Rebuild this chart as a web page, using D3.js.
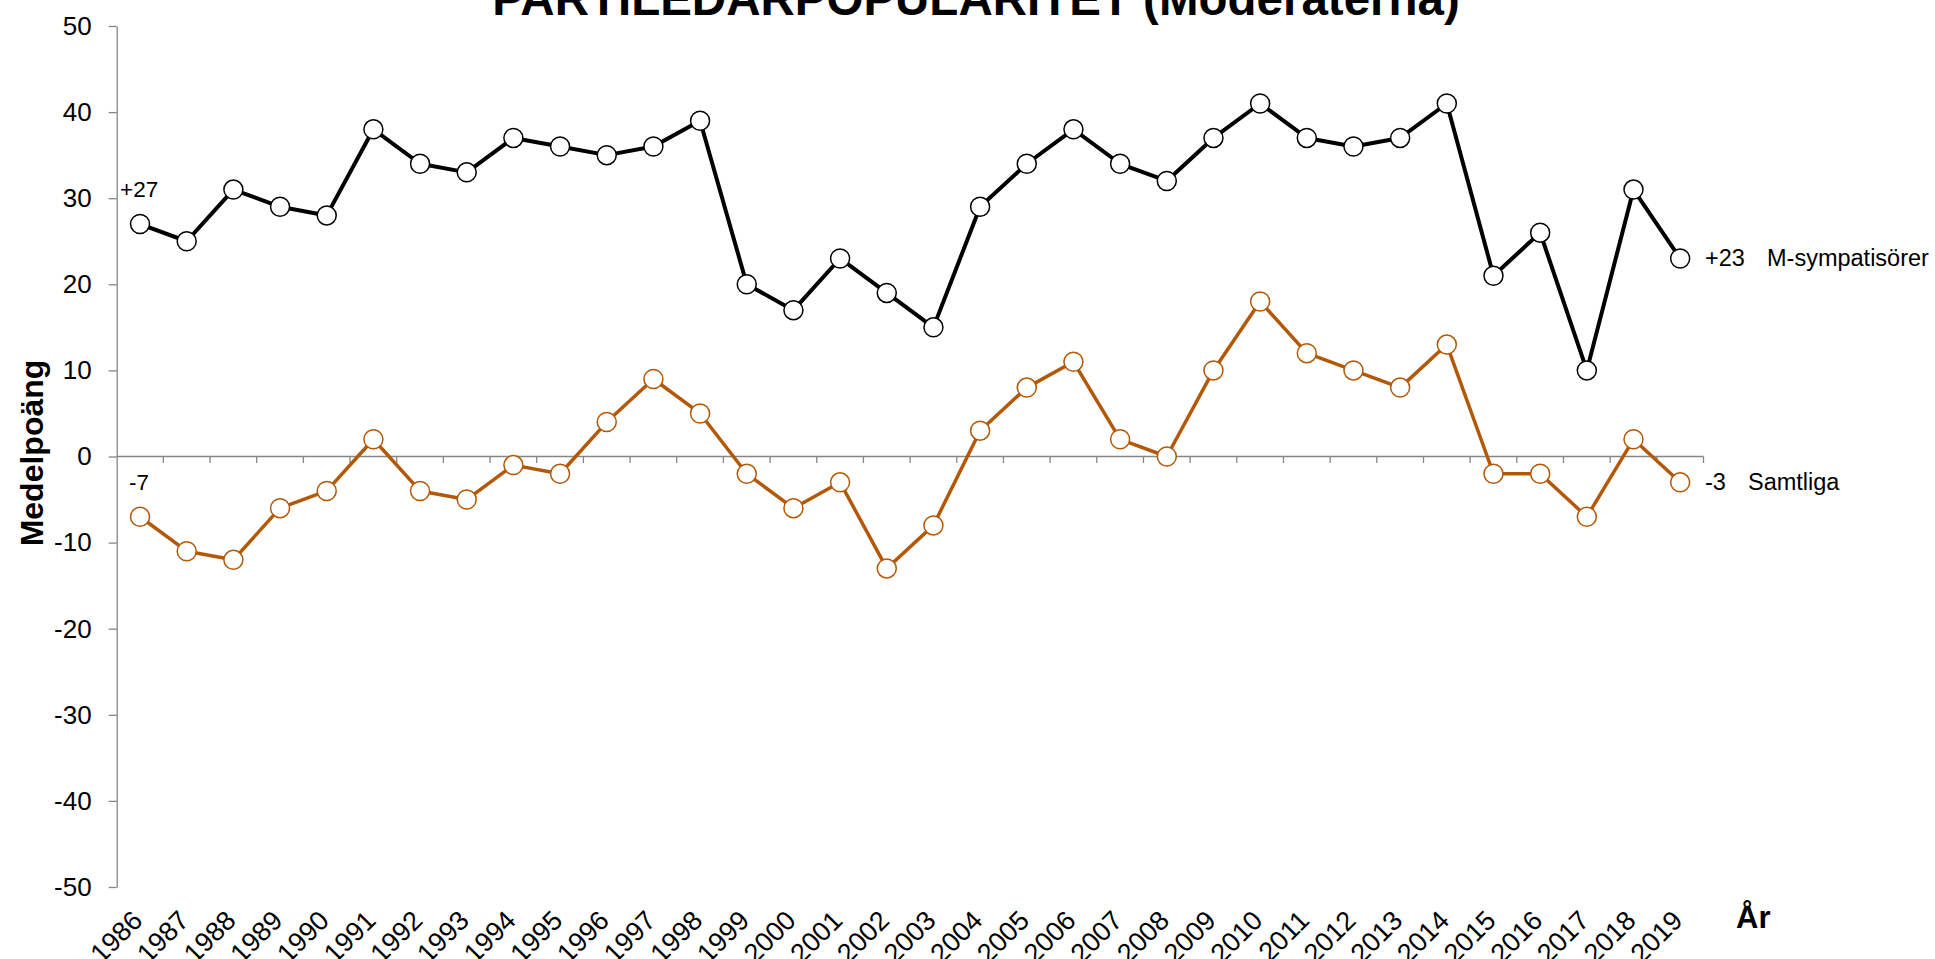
<!DOCTYPE html>
<html>
<head>
<meta charset="utf-8">
<script src="https://cdn.jsdelivr.net/npm/d3@7"></script>
<style>
  html, body { margin: 0; padding: 0; background: #fff; overflow: hidden; }
  svg { display: block; font-family: "Liberation Sans", Arial, sans-serif; }
</style>
</head>
<body>
<svg id="chart" width="1935" height="959"></svg>
<script>
const years = [1986,1987,1988,1989,1990,1991,1992,1993,1994,1995,1996,1997,1998,1999,2000,2001,2002,2003,2004,2005,2006,2007,2008,2009,2010,2011,2012,2013,2014,2015,2016,2017,2018,2019];
const mSympatisorer = [27,25,31,29,28,38,34,33,37,36,35,36,39,20,17,23,19,15,29,34,38,34,32,37,41,37,36,37,41,21,26,10,31,23];
const samtliga = [-7,-11,-12,-6,-4,2,-4,-5,-1,-2,4,9,5,-2,-6,-3,-13,-8,3,8,11,2,0,10,18,12,10,8,13,-2,-2,-7,2,-3];
const yTicks = [50,40,30,20,10,0,-10,-20,-30,-40,-50];
const seriesNames = ["M-sympatisörer", "Samtliga"];
const titleText = "PARTILEDARPOPULARITET (Moderaterna)";
const yTitle = "Medelpoäng";
const xTitle = "År";

const svg = d3.select("#chart");
const plotLeft = 116.7, plotRight = 1703.5, plotTop = 26, plotBottom = 887;

const x = d3.scaleBand().domain(years).range([plotLeft, plotRight]).paddingInner(0).paddingOuter(0);
const cx = d => x(d) + x.bandwidth() / 2;
const y = d3.scaleLinear().domain([-50, 50]).range([plotBottom, plotTop]);

const axisColor = "#868686";

// Title
svg.append("text")
  .attr("x", 976).attr("y", 15)
  .attr("text-anchor", "middle")
  .attr("font-size", 47.5).attr("font-weight", "bold")
  .attr("fill", "#000")
  .text(titleText);

// Y axis
const yAxis = svg.append("g")
  .attr("transform", `translate(${plotLeft},0)`)
  .call(d3.axisLeft(y).tickValues(yTicks).tickSize(8).tickPadding(17).tickSizeOuter(0));
yAxis.select(".domain").attr("stroke", axisColor).attr("stroke-width", 1.3);
yAxis.selectAll(".tick line").attr("stroke", axisColor).attr("stroke-width", 1.3);
yAxis.selectAll(".tick text")
  .attr("font-size", 26).attr("fill", "#000")
  .attr("font-family", "Liberation Sans, Arial, sans-serif")
  .text(d => d < 0 ? "-" + Math.abs(d) : d);

// X axis at zero
const zeroY = y(0);
const boundaries = years.map(d => x(d)).concat([plotRight]);
const xAxisG = svg.append("g");
xAxisG.append("line")
  .attr("x1", plotLeft).attr("x2", plotRight).attr("y1", zeroY).attr("y2", zeroY)
  .attr("stroke", axisColor).attr("stroke-width", 1.3);
xAxisG.selectAll("line.tk").data(boundaries.slice(1)).enter().append("line")
  .attr("class", "tk")
  .attr("x1", d => d).attr("x2", d => d)
  .attr("y1", zeroY).attr("y2", zeroY + 6.5)
  .attr("stroke", axisColor).attr("stroke-width", 1.3);

// X labels (rotated)
svg.append("g").selectAll("text").data(years).enter().append("text")
  .attr("transform", d => `translate(${cx(d) + 4},922) rotate(-45)`)
  .attr("text-anchor", "end")
  .attr("font-size", 27).attr("fill", "#000")
  .text(d => d);

// Axis titles
svg.append("text")
  .attr("transform", "translate(43,453) rotate(-90)")
  .attr("text-anchor", "middle")
  .attr("font-size", 32).attr("font-weight", "bold")
  .text(yTitle);
svg.append("text")
  .attr("x", 1736).attr("y", 928)
  .attr("font-size", 31).attr("font-weight", "bold")
  .text(xTitle);

// Series
const series = [
  { name: seriesNames[0], values: mSympatisorer, color: "#000000", width: 4 },
  { name: seriesNames[1], values: samtliga, color: "#B35806", width: 3.5 }
];

const line = d3.line().x((d, i) => cx(years[i])).y(d => y(d));

series.forEach(s => {
  svg.append("path")
    .datum(s.values)
    .attr("d", line)
    .attr("fill", "none")
    .attr("stroke", s.color)
    .attr("stroke-width", s.width)
    .attr("stroke-linejoin", "round");
  svg.append("g").selectAll("circle").data(s.values).enter().append("circle")
    .attr("cx", (d, i) => cx(years[i]))
    .attr("cy", d => y(d))
    .attr("r", 9.5)
    .attr("fill", "#fff")
    .attr("stroke", s.color)
    .attr("stroke-width", 1.5);
});

const fmt = v => (v > 0 ? "+" : v < 0 ? "-" : "") + Math.abs(v);

// Start labels
const firstYear = years[0];
svg.append("text")
  .attr("x", cx(firstYear) - 20).attr("y", y(mSympatisorer[0]) - 27)
  .attr("font-size", 22.5).attr("fill", "#000")
  .text(fmt(mSympatisorer[0]));
svg.append("text")
  .attr("x", cx(firstYear) - 11).attr("y", y(samtliga[0]) - 27)
  .attr("font-size", 22.5).attr("fill", "#000")
  .text(fmt(samtliga[0]));

// End labels
const lastIdx = years.length - 1;
svg.append("text")
  .attr("x", 1705).attr("y", y(mSympatisorer[lastIdx]) + 8)
  .attr("font-size", 23.5).attr("fill", "#000")
  .text(fmt(mSympatisorer[lastIdx]));
svg.append("text")
  .attr("x", 1767).attr("y", y(mSympatisorer[lastIdx]) + 8)
  .attr("font-size", 23.5).attr("fill", "#000")
  .text(series[0].name);
svg.append("text")
  .attr("x", 1705).attr("y", y(samtliga[lastIdx]) + 8)
  .attr("font-size", 23.5).attr("fill", "#000")
  .text(fmt(samtliga[lastIdx]));
svg.append("text")
  .attr("x", 1748).attr("y", y(samtliga[lastIdx]) + 8)
  .attr("font-size", 23.5).attr("fill", "#000")
  .text(series[1].name);
</script>
</body>
</html>
